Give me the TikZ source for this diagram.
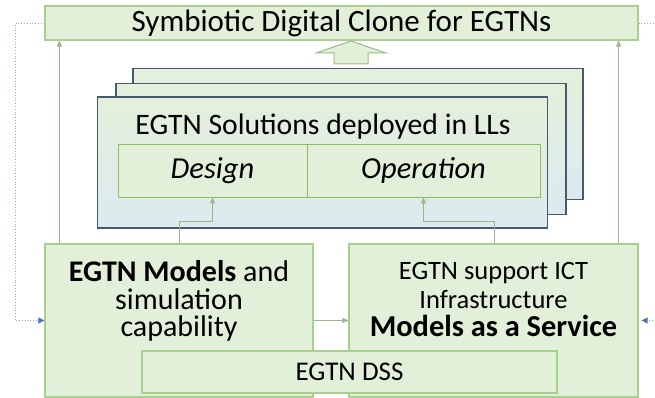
\documentclass[tikz,border=0pt]{standalone}
\usepackage{fontspec}
\setmainfont{Carlito}
\usepackage{xcolor}
\usetikzlibrary{positioning,calc,arrows.meta}

\definecolor{boxfill}{HTML}{E2F0D9}
\definecolor{boxline}{HTML}{A9CF8E}
\definecolor{partline}{HTML}{8DBB66}
\definecolor{stackline}{HTML}{475A70}
\definecolor{stacktop}{HTML}{E4F0DB}
\definecolor{stackmid}{HTML}{E3EFDA}
\definecolor{stackbot}{HTML}{DCEAF0}
\definecolor{connline}{HTML}{9DB78C}
\definecolor{fbline}{HTML}{8FAADC}
\definecolor{fbtip}{HTML}{4E73B2}

\tikzset{
  greenbox/.style={draw=boxline, fill=boxfill, line width=1.2pt, inner sep=0pt},
  stackbox/.style={draw=stackline, top color=stacktop, middle color=stackmid, bottom color=stackbot, line width=1.4pt, inner sep=0pt,
    minimum width=450pt, minimum height=131pt},
  partbox/.style={draw=partline, fill=boxfill, line width=0.8pt, inner sep=0pt, minimum height=53pt},
  conn/.style={draw=connline, line width=0.8pt, -{Triangle[length=6pt,width=5pt]}},
  feedback/.style={draw=fbline, line width=0.8pt, dotted, -{Triangle[length=6pt,width=6pt,color=fbtip,fill=fbtip]}},
}

\begin{document}
\begin{tikzpicture}[x=1pt, y=-1pt]
    \useasboundingbox (0,0) rectangle (655,398);
    \clip (0,0) rectangle (655,398);

    \node [greenbox, minimum width=593pt, minimum height=34pt, font=\fontsize{31}{34}\selectfont] (clone) at (341.5, 23) {Symbiotic Digital Clone for EGTNs};

    % hollow arrow towards the clone
    \coordinate (tip) at (351, 41);
    \draw [draw=connline, fill=boxfill, line width=1pt] (tip) -- ++(35,12) -- ++(-18,0) -- ++(0,11) -- ++(-34,0) -- ++(0,-11) -- ++(-18,0) -- cycle;

    % stack of solutions
    \node [stackbox] (sol3) at (358, 134) {};
    \node [stackbox] (sol2) at (341, 149) {};
    \node [stackbox] (sol1) at (322.5, 162.5) {};
    \node [inner sep=0pt, font=\fontsize{29.7}{32}\selectfont] (soltitle) at (323, 127) {EGTN Solutions deployed in LLs};
    \node [partbox, minimum width=189pt, font=\fontsize{30.5}{32}\selectfont\itshape] (design) at (212.5, 170.5) {Design};
    \node [partbox, minimum width=233pt, font=\fontsize{30.5}{32}\selectfont\itshape] (operation) at (423.5, 170.5) {Operation};

    % models and services
    \node [greenbox, minimum width=268pt, minimum height=153pt] (models) at (179, 320.5) {};
    \node [greenbox, minimum width=289pt, minimum height=153pt] (maas) at (493.5, 320.5) {};
    \node [anchor=north, inner sep=0pt, align=center, font=\fontsize{30}{27.5}\selectfont] (modelstext) at ([yshift=-17pt]models.north)
        {\textbf{EGTN Models} and\\simulation\\capability};
    \node [anchor=north, inner sep=0pt, align=center, font=\fontsize{26.5}{28.5}\selectfont] (maastext) at ([yshift=-19pt]maas.north)
        {EGTN support ICT\\Infrastructure\\{\fontsize{30.4}{28.5}\selectfont\bfseries Models as a Service}};
    \node [greenbox, minimum width=415pt, minimum height=42pt, font=\fontsize{27}{30}\selectfont] (dss) at (349.5, 372) {EGTN DSS};

    % connectors
    \draw [conn] ([xshift=15pt]models.north west) -- ([xshift=15pt]models.north west |- clone.south);
    \draw [conn] ([xshift=-20pt]maas.north east) -- ([xshift=-20pt]maas.north east |- clone.south);
    \draw [conn] ([xshift=135pt]models.north west) |- ([yshift=-24pt]design.south) -- (design.south);
    \draw [conn] ([xshift=-144pt]maas.north east) |- ([yshift=-24pt]operation.south) -- (operation.south);
    \draw [conn] (models.east) -- (maas.west);
    \draw [feedback] (clone.west) -- ++(-29,0) |- (models.west);
    \draw [feedback, shorten >=3pt] (clone.east) -- ++(25,0) |- (maas.east);
\end{tikzpicture}
\end{document}
